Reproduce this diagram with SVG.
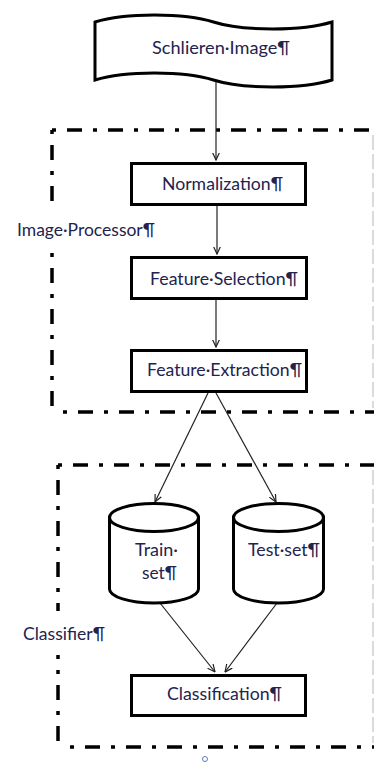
<svg xmlns="http://www.w3.org/2000/svg" width="374" height="763" viewBox="0 0 374 763">
<style>
.box{fill:#fff;stroke:#000;stroke-width:3}
.dash{fill:none;stroke:#000;stroke-width:3.5;stroke-dasharray:4 11 15 11}
.faint{fill:none;stroke:#d0d0d0;stroke-width:1.5;stroke-dasharray:15 4}
.con{fill:none;stroke:#222;stroke-width:1.2;marker-end:url(#ah)}
.t{font-family:Lato,"Open Sans",sans-serif;font-size:17px;fill:#23234f}
</style>
<defs>
<marker id="ah" viewBox="0 0 8 8" refX="7.5" refY="4" markerWidth="8" markerHeight="8" markerUnits="userSpaceOnUse" orient="auto">
<path d="M0,0.5 L7.5,4 L0,7.5" fill="none" stroke="#222" stroke-width="1.2"/>
</marker>
</defs>
<rect width="374" height="763" fill="#fff"/>
<g id="frame-image-processor">
<path class="dash" d="M52,130 H374"/>
<path class="dash" d="M52,130 V412"/>
<path class="dash" d="M63,412 H374"/>
<path class="faint" d="M373,135 V408"/>
<rect x="14" y="204" width="146" height="48" fill="#fff"/>
<text class="t" x="17" y="236" textLength="138" lengthAdjust="spacingAndGlyphs">Image·Processor¶</text>
</g>
<g id="frame-classifier">
<path class="dash" d="M58,465 H374"/>
<path class="dash" d="M58,465 V747"/>
<path class="dash" d="M70,747 H374"/>
<path class="faint" d="M373,470 V743"/>
<rect x="20" y="611" width="90" height="44" fill="#fff"/>
<text class="t" x="23" y="640" textLength="82" lengthAdjust="spacingAndGlyphs">Classifier¶</text>
</g>
<g id="connectors">
<path class="con" d="M216,81 V160"/>
<path class="con" d="M217,206 V254"/>
<path class="con" d="M216,300 V347"/>
<path class="con" d="M208,393 L155,502"/>
<path class="con" d="M216,393 L276,502"/>
<path class="con" d="M160,603 L215,672"/>
<path class="con" d="M277,603 L225,672"/>
</g>
<g id="schlieren-image">
<path class="box" d="M95,22 C125,12.7 184,12.7 213.5,22 C243,31.3 302,31.3 332,22 V80 C302,89.3 243,89.3 213.5,80 C184,70.7 125,70.7 95,80 Z"/>
<text class="t" x="152" y="54" textLength="138" lengthAdjust="spacingAndGlyphs">Schlieren·Image¶</text>
</g>
<g id="normalization">
<rect class="box" x="131.5" y="163.5" width="174" height="41"/>
<text class="t" x="162" y="190" textLength="121" lengthAdjust="spacingAndGlyphs">Normalization¶</text>
</g>
<g id="feature-selection">
<rect class="box" x="131.5" y="257.5" width="175" height="41"/>
<text class="t" x="150" y="285" textLength="148" lengthAdjust="spacingAndGlyphs">Feature·Selection¶</text>
</g>
<g id="feature-extraction">
<rect class="box" x="131.5" y="350.5" width="175" height="41"/>
<text class="t" x="147" y="376" textLength="155" lengthAdjust="spacingAndGlyphs">Feature·Extraction¶</text>
</g>
<g id="train-set">
<path class="box" d="M109.5,517.5 V589 A44.5,14 0 0 0 198.5,589 V517.5 Z"/>
<ellipse class="box" cx="154" cy="517.5" rx="44.5" ry="14"/>
<text class="t" x="135" y="556" textLength="43" lengthAdjust="spacingAndGlyphs">Train·</text>
<text class="t" x="142" y="579" textLength="35" lengthAdjust="spacingAndGlyphs">set¶</text>
</g>
<g id="test-set">
<path class="box" d="M233.5,517.5 V589 A45,14 0 0 0 323.5,589 V517.5 Z"/>
<ellipse class="box" cx="278.5" cy="517.5" rx="45" ry="14"/>
<text class="t" x="248" y="556" textLength="72" lengthAdjust="spacingAndGlyphs">Test·set¶</text>
</g>
<g id="classification">
<rect class="box" x="131.5" y="675.5" width="174" height="40"/>
<text class="t" x="167" y="700" textLength="115" lengthAdjust="spacingAndGlyphs">Classification¶</text>
</g>
<circle cx="205" cy="759" r="2.5" fill="none" stroke="#5b7fb5" stroke-width="1"/>
</svg>
